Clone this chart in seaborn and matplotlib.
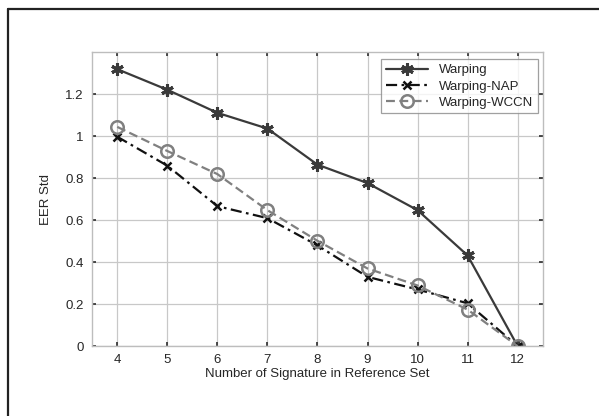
import matplotlib
matplotlib.use("Agg")
import matplotlib.pyplot as plt
from matplotlib.lines import Line2D
import seaborn as sns
import pandas as pd

n_signatures = [4, 5, 6, 7, 8, 9, 10, 11, 12]
warping = [1.32, 1.222, 1.112, 1.037, 0.865, 0.777, 0.648, 0.432, 0.0]
warping_nap = [0.998, 0.86, 0.667, 0.61, 0.48, 0.33, 0.27, 0.204, 0.0]
warping_wccn = [1.045, 0.93, 0.82, 0.648, 0.502, 0.37, 0.289, 0.174, 0.0]
series_names = ["Warping", "Warping-NAP", "Warping-WCCN"]
y_ticks = [0, 0.2, 0.4, 0.6, 0.8, 1, 1.2]
y_tick_labels = ["0", "0.2", "0.4", "0.6", "0.8", "1", "1.2"]

sns.set_theme(style="white")
plt.rcParams["font.family"] = ["Liberation Sans", "DejaVu Sans"]

fig = plt.figure(figsize=(5.99, 4.16), dpi=100)
ax = fig.add_axes([0.154, 0.168, 0.752, 0.706])

styles = [
    dict(color="#3a3a3a", linestyle="-", marker=(6, 2, 0), markersize=9, markeredgewidth=2.2,
         markeredgecolor="#3a3a3a", linewidth=1.6),
    dict(color="#111111", linestyle=(0, (5, 2, 1.2, 2)), marker="x", markersize=6, markeredgewidth=1.8,
         markeredgecolor="#111111", linewidth=1.6),
    dict(color="#808080", linestyle=(0, (4, 2)), marker="o", markersize=9, markeredgewidth=1.8,
         markerfacecolor="none", markeredgecolor="#808080", linewidth=1.6),
]
for name, vals, st in zip(series_names, [warping, warping_nap, warping_wccn], styles):
    df = pd.DataFrame({"x": n_signatures, "y": vals})
    sns.lineplot(data=df, x="x", y="y", ax=ax, label=name, **st)

ax.set_xlim(3.5, 12.5)
ax.set_ylim(0, 1.4)
ax.set_xticks(n_signatures)
ax.set_xticklabels([str(v) for v in n_signatures])
ax.set_yticks(y_ticks)
ax.set_yticklabels(y_tick_labels)
ax.grid(True, color="#c8c8c8", linewidth=0.9)
ax.tick_params(direction="in", length=3, color="#333333", labelsize=9.5, pad=6,
               top=True, right=True, bottom=True, left=True)
for s in ax.spines.values():
    s.set_color("#bdbdbd")
    s.set_linewidth(1.0)
ax.set_xlabel("Number of Signature in Reference Set", fontsize=9.5, labelpad=1)
ax.set_ylabel("EER Std", fontsize=9.5, labelpad=10)

leg = ax.legend(loc="upper right", fontsize=9.5, frameon=True, fancybox=False,
                edgecolor="#888888", handlelength=3.2, borderpad=0.35, labelspacing=0.3,
                borderaxespad=0, bbox_to_anchor=(0.989, 0.976))
leg.get_frame().set_linewidth(0.9)

fig.add_artist(Line2D([8 / 599, 8 / 599], [0, 1 - 9 / 416], color="#222222", linewidth=1.6,
                      transform=fig.transFigure))
fig.add_artist(Line2D([8 / 599, 1], [1 - 9 / 416, 1 - 9 / 416], color="#222222", linewidth=1.6,
                      transform=fig.transFigure))

fig.savefig("out.png", dpi=100)
